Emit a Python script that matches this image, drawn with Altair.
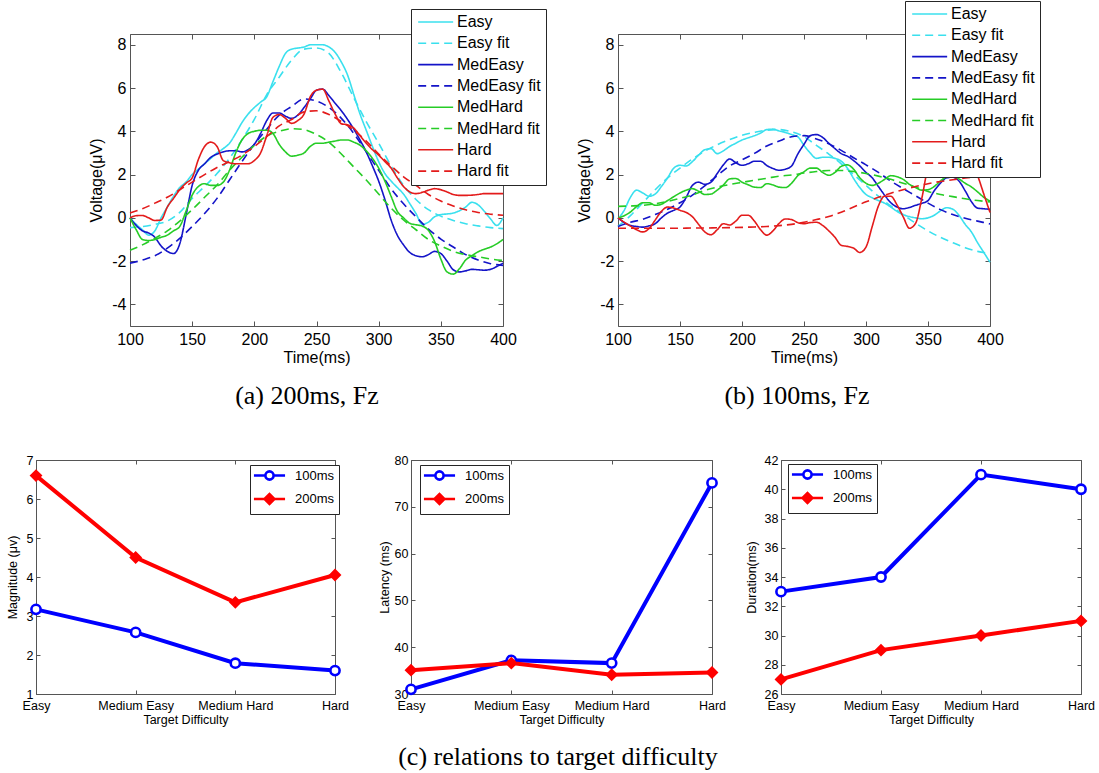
import altair as alt
import pandas as pd

# ---------------- data ----------------
t_raw = list(range(100, 401, 5))
t_fit = list(range(100, 401, 10))

series_names = ["Easy", "Easy fit", "MedEasy", "MedEasy fit",
                "MedHard", "MedHard fit", "Hard", "Hard fit"]

# (a) 200ms, Fz
a_easy = [0, -0.3, -0.55, -0.8, -0.6, 0.0, 0.5, 1.0, 1.4, 1.65,
          2.0, 2.25, 2.5, 2.75, 3.0, 3.2, 3.45, 3.9, 4.4, 4.8,
          5.1, 5.35, 5.6, 6.3, 7.0, 7.6, 7.8, 7.85, 7.9, 8.0,
          8.0, 8.0, 7.9, 7.65, 7.2, 6.6, 5.7, 4.8, 4.05, 3.3,
          2.6, 2.05, 1.7, 1.4, 1.1, 0.66, 0.2, -0.3, -0.2, 0.05,
          0.15, 0.18, 0.22, 0.33, 0.5, 0.72, 0.6, 0.3, -0.05, -0.35,
          0.0]
a_easy_fit = [-0.45, -0.4, -0.3, -0.15, 0.25, 0.9, 1.45, 2.05, 2.75, 3.6,
              4.55, 5.7, 6.5, 7.3, 7.8, 7.85, 7.6, 6.7, 5.55, 4.45,
              3.45, 2.4, 1.5, 0.85, 0.38, 0.08, -0.12, -0.27, -0.37, -0.45,
              -0.5]
a_medeasy = [0, -0.35, -0.6, -0.7, -0.9, -1.3, -1.55, -1.65, -1.2, 0.1,
             1.5, 2.2, 2.5, 2.8, 2.95, 3.05, 3.1, 3.1, 3.05, 3.15,
             3.4, 3.9, 4.5, 4.85, 4.85, 4.7, 4.6, 4.75, 5.1, 5.5,
             5.9, 5.95, 5.65, 5.3, 4.95, 4.55, 4.1, 3.6, 3.05, 2.4,
             1.7, 0.85, -0.1, -0.8, -1.25, -1.6, -1.75, -1.8, -1.7, -1.55,
             -1.65, -2.0, -2.4, -2.5, -2.45, -2.38, -2.4, -2.42, -2.38, -2.25,
             -2.1]
a_medeasy_fit = [-2.1, -1.95, -1.75, -1.4, -0.95, -0.4, 0.2, 0.9, 1.75, 2.6,
                 3.4, 4.1, 4.75, 5.15, 5.5, 5.4, 5.1, 4.6, 3.9, 3.05,
                 2.2, 1.35, 0.65, 0.05, -0.52, -0.98, -1.35, -1.7, -1.95, -2.12,
                 -2.2]
a_medhard = [0, -0.55, -1.0, -1.05, -1.0, -0.9, -0.8, -0.6, -0.4, 0.3,
             1.05, 1.45, 1.58, 1.5, 1.5, 1.65, 2.2, 3.0, 3.6, 3.9,
             4.0, 4.05, 4.05, 3.9, 3.4, 3.05, 2.85, 2.9, 3.0, 3.3,
             3.45, 3.45, 3.5, 3.55, 3.6, 3.6, 3.5, 3.36, 3.1, 2.75,
             2.3, 1.7, 1.0, 0.3, 0.0, -0.25, -0.32, -0.38, -0.58, -1.1,
             -1.9, -2.5, -2.6, -2.35, -1.95, -1.75, -1.57, -1.45, -1.35, -1.2,
             -1.0]
a_medhard_fit = [-1.5, -1.25, -0.95, -0.6, -0.15, 0.38, 0.95, 1.52, 2.2, 2.8,
                 3.35, 3.78, 4.0, 4.12, 4.08, 3.85, 3.5, 2.95, 2.35, 1.75,
                 1.1, 0.45, -0.1, -0.55, -1.0, -1.3, -1.55, -1.7, -1.8, -1.9,
                 -1.97]
a_hard = [0, 0.1, 0.11, 0.0, -0.12, -0.1, 0.5, 0.9, 1.3, 1.6,
          1.85, 2.7, 3.3, 3.5, 3.3, 2.65, 2.55, 2.5, 2.5, 2.5,
          2.65, 3.0, 3.8, 4.65, 4.78, 4.6, 4.37, 4.5, 4.8, 5.6,
          5.9, 5.95, 5.4, 4.8, 4.35, 4.3, 4.15, 3.8, 3.45, 3.15,
          2.9, 2.6, 2.3, 1.85, 1.45, 1.2, 1.12, 1.18, 1.28, 1.35,
          1.3, 1.2, 1.08, 1.04, 1.04, 1.05, 1.08, 1.12, 1.12, 1.12,
          1.12]
a_hard_fit = [0.22, 0.42, 0.68, 0.95, 1.3, 1.65, 2.0, 2.33, 2.6, 2.9,
              3.3, 3.75, 4.25, 4.55, 4.9, 4.95, 4.78, 4.45, 4.05, 3.55,
              2.95, 2.4, 1.9, 1.5, 1.08, 0.78, 0.55, 0.37, 0.25, 0.17,
              0.12]

# (b) 100ms, Fz
b_easy = [-0.05, 0.35, 0.95, 1.28, 1.15, 1.0, 1.1, 1.45, 1.85, 2.3,
          2.43, 2.4, 2.6, 2.9, 3.15, 3.2, 2.97, 3.1, 3.3, 3.45,
          3.6, 3.7, 3.8, 3.92, 4.08, 4.1, 4.02, 3.95, 3.85, 3.75,
          3.35, 3.0, 2.75, 2.8, 2.8, 2.75, 2.62, 2.3, 1.82, 1.4,
          1.08, 0.93, 0.8, 0.68, 0.5, 0.3, 0.15, 0.06, 0.0, -0.04,
          0.0, 0.12, 0.32, 0.47, 0.4, 0.12, -0.3, -0.65, -1.15, -1.6,
          -2.05]
b_easy_fit = [-0.4, 0.1, 0.7, 1.3, 1.85, 2.3, 2.72, 3.08, 3.38, 3.62,
              3.82, 3.95, 4.05, 4.08, 3.98, 3.75, 3.35, 2.95, 2.5, 2.0,
              1.5, 1.0, 0.55, 0.15, -0.25, -0.6, -0.9, -1.15, -1.38, -1.55,
              -1.65]
b_medeasy = [0, -0.22, -0.35, -0.4, -0.43, -0.37, -0.27, 0.0, 0.22, 0.35,
             0.5, 0.95, 1.5, 1.65, 1.55, 1.65, 2.05, 2.45, 2.72, 2.55,
             2.43, 2.5, 2.62, 2.62, 2.42, 2.28, 2.2, 2.25, 2.4, 2.95,
             3.4, 3.8, 3.85, 3.72, 3.45, 3.2, 2.97, 2.85, 2.65, 2.4,
             2.1, 1.85, 1.45, 1.05, 0.7, 0.5, 0.42, 0.48, 0.58, 0.67,
             0.8, 1.25, 1.6, 1.85, 1.88, 1.7, 1.25, 0.75, 0.45, 0.42,
             0.4]
b_medeasy_fit = [-0.4, -0.2, -0.07, 0.15, 0.4, 0.7, 1.05, 1.48, 1.95, 2.4,
                 2.68, 2.98, 3.32, 3.55, 3.75, 3.8, 3.65, 3.42, 3.12, 2.78,
                 2.45, 2.1, 1.7, 1.35, 1.02, 0.68, 0.38, 0.15, -0.02, -0.15,
                 -0.28]
b_medhard = [0, 0.1, 0.27, 0.52, 0.7, 0.7, 0.58, 0.63, 0.8, 0.98,
             1.15, 1.28, 1.35, 1.23, 1.08, 1.1, 1.28, 1.52, 1.8, 1.82,
             1.65, 1.53, 1.42, 1.4, 1.58, 1.52, 1.42, 1.4, 1.6, 1.95,
             2.13, 2.3, 2.3, 2.1, 1.97, 2.1, 2.38, 2.45, 2.25, 1.85,
             1.6, 1.5, 1.6, 1.78, 1.95, 1.9, 1.78, 1.55, 1.4, 1.28,
             1.3, 1.45, 1.7, 1.9, 1.95, 1.8, 1.6, 1.43, 1.2, 0.95,
             0.78]
b_medhard_fit = [0.53, 0.55, 0.58, 0.65, 0.76, 0.9, 1.06, 1.27, 1.42, 1.54,
                 1.64, 1.74, 1.83, 1.93, 1.98, 2.07, 2.14, 2.19, 2.19, 2.14,
                 2.05, 1.93, 1.78, 1.6, 1.42, 1.22, 1.08, 0.98, 0.88, 0.8,
                 0.74]
b_hard = [0, -0.2, -0.38, -0.55, -0.65, -0.5, -0.1, 0.3, 0.5, 0.45,
          0.35, 0.25, 0.05, -0.3, -0.65, -0.78, -0.55, -0.27, -0.33, -0.15,
          0.12, 0.12, -0.15, -0.55, -0.8, -0.6, -0.25, -0.05, -0.08, -0.22,
          -0.27, -0.22, -0.2, -0.35, -0.6, -0.9, -1.27, -1.32, -1.4, -1.6,
          -1.35, -0.4, 0.55, 1.0, 1.0, 0.6, 0.05, -0.48, -0.25, 0.9,
          2.36, 3.0, 3.2, 3.0, 2.8, 2.7, 2.75, 2.6, 1.95, 1.1,
          0.25]
b_hard_fit = [-0.48, -0.48, -0.48, -0.48, -0.48, -0.48, -0.47, -0.47, -0.46, -0.45,
              -0.44, -0.42, -0.4, -0.36, -0.3, -0.2, -0.08, 0.06, 0.26, 0.5,
              0.74, 0.95, 1.14, 1.3, 1.45, 1.58, 1.68, 1.76, 1.84, 1.91,
              1.97]

# (c) relations to target difficulty
categories = ["Easy", "Medium Easy", "Medium Hard", "Hard"]
conditions = ["100ms", "200ms"]
mag_100 = [3.17, 2.58, 1.79, 1.6]
mag_200 = [6.6, 4.5, 3.35, 4.05]
lat_100 = [31.0, 37.2, 36.6, 75.1]
lat_200 = [35.1, 36.6, 34.1, 34.6]
dur_100 = [33, 34, 41, 40]
dur_200 = [27, 29, 30, 31]

captions = ["(a) 200ms, Fz", "(b) 100ms, Fz", "(c) relations to target difficulty"]

# ---------------- styling ----------------
W, H = 1099, 773
AXC = "#555555"
SANS = "Liberation Sans"
SERIF = "Liberation Serif"
CYAN, BLUE, GREEN, RED = "#3ae0ee", "#1414c8", "#26cc26", "#e31b1b"
series_colors = [CYAN, CYAN, BLUE, BLUE, GREEN, GREEN, RED, RED]
SOLID, DASH = [1, 0], [8, 5]
series_dashes = [SOLID, DASH, SOLID, DASH, SOLID, DASH, SOLID, DASH]
to_str = "toString(datum.value)"


def frame_layers(df, xf, yf, xs, ys, box, xvals, yvals, tick):
    """Inward ticks on all four sides plus the top/right box edges."""
    L, T, R, B = box
    base = dict(labels=False, title=None, grid=False, ticks=True, tickSize=tick,
                tickColor=AXC, tickWidth=1, domainColor=AXC, domainWidth=1)
    xkw = {} if xvals is None else {"values": xvals}
    l2 = alt.Chart(df).mark_point(opacity=0).encode(
        x=alt.X(xf, scale=xs, axis=alt.Axis(orient="top", offset=-B, domain=False, **base, **xkw)),
        y=alt.Y(yf, scale=ys, axis=alt.Axis(orient="right", offset=L - W, domain=False, values=yvals, **base)),
    )
    l3 = alt.Chart(df).mark_point(opacity=0).encode(
        x=alt.X(xf, scale=xs, axis=alt.Axis(orient="bottom", offset=T - H, domain=True, **base, **xkw)),
        y=alt.Y(yf, scale=ys, axis=alt.Axis(orient="left", offset=-R, domain=True, values=yvals, **base)),
    )
    return [l2, l3]


def top_panel(curves, box, leg_xy):
    L, T, R, B = box
    rows = []
    for name, times, vals in curves:
        for t, v in zip(times, vals):
            rows.append({"t": t, "v": v, "series": name})
    df = pd.DataFrame(rows)
    xs = alt.Scale(domain=[100, 400], range=[L, R], nice=False, zero=False)
    ys = alt.Scale(domain=[-5, 8.5], range=[B, T], nice=False, zero=False)
    leg = alt.Legend(title=None, orient="none", legendX=leg_xy[0], legendY=leg_xy[1],
                     direction="vertical", fillColor="white", strokeColor="#262626",
                     padding=5, rowPadding=5.3, labelFont=SANS,
                     labelFontSize=16, labelColor="black", labelLimit=300,
                     symbolType="M-1,0H5", symbolSize=136, symbolStrokeWidth=1.6,
                     symbolOffset=0, labelOffset=25, zindex=1)
    xticks = [100, 150, 200, 250, 300, 350, 400]
    yticks = [-4, -2, 0, 2, 4, 6, 8]
    lines = alt.Chart(df).mark_line(strokeWidth=1.6, interpolate="monotone").encode(
        x=alt.X("t:Q", scale=xs, axis=alt.Axis(
            orient="bottom", offset=B - H, values=xticks, ticks=False, domain=True,
            labelFontSize=16, labelPadding=5, labelFlush=False, labelOverlap=False,
            labelExpr=to_str, title="Time(ms)", titleFontSize=16, titlePadding=2, grid=False)),
        y=alt.Y("v:Q", scale=ys, axis=alt.Axis(
            orient="left", offset=-L, values=yticks, ticks=False, domain=True,
            labelFontSize=16, labelPadding=4, labelOverlap=False, labelExpr=to_str,
            title="Voltage(\u03bcV)", titleFontSize=16, titlePadding=7, grid=False)),
        color=alt.Color("series:N", scale=alt.Scale(domain=series_names, range=series_colors), legend=leg),
        strokeDash=alt.StrokeDash("series:N", scale=alt.Scale(domain=series_names, range=series_dashes), legend=leg),
    )
    return [lines] + frame_layers(df, "t:Q", "v:Q", xs, ys, box, xticks, yticks, 5)


CIRCLE_LEG = "M-3.8,0H-1M1,0H3.8M-1,0A1,1,0,1,1,1,0A1,1,0,1,1,-1,0Z"
DIAMOND_LEG = "M-3.8,0H-1.2M1.2,0H3.8M-1.2,0L0,-1.2L1.2,0L0,1.2Z"


def bottom_panel(v100, v200, box, ydomain, yticks, ytitle, leg_xy, tpad):
    L, T, R, B = box
    df = pd.DataFrame({
        "cond": categories + categories,
        "value": v100 + v200,
        "series": [conditions[0]] * 4 + [conditions[1]] * 4,
    })
    xs = alt.Scale(type="point", domain=categories, range=[L, R], padding=0)
    ys = alt.Scale(domain=ydomain, range=[B, T], nice=False, zero=False)
    stroke_sc = alt.Scale(domain=conditions, range=["#0000ff", "#ff0000"])
    fill_sc = alt.Scale(domain=conditions, range=["white", "#ff0000"])
    lines = alt.Chart(df).mark_line(strokeWidth=4).encode(
        x=alt.X("cond:N", scale=xs, axis=alt.Axis(
            orient="bottom", offset=B - H, ticks=False, domain=True, labelAngle=0,
            labelFontSize=12.5, labelPadding=5, labelFlush=False, labelOverlap=False,
            title="Target Difficulty", titleFontSize=12.5, titlePadding=1.5, grid=False)),
        y=alt.Y("value:Q", scale=ys, axis=alt.Axis(
            orient="left", offset=-L, values=yticks, ticks=False, domain=True,
            labelFontSize=12.5, labelPadding=3, labelOverlap=False, labelExpr=to_str,
            title=ytitle, titleFontSize=12.5, titlePadding=tpad, grid=False)),
        color=alt.Color("series:N", scale=stroke_sc, legend=None),
    )
    markers = alt.Chart(df).mark_point(size=85, strokeWidth=2.6, opacity=1).encode(
        x=alt.X("cond:N", scale=xs, axis=None),
        y=alt.Y("value:Q", scale=ys, axis=None),
        shape=alt.Shape("series:N", scale=alt.Scale(domain=conditions, range=["circle", "diamond"]), legend=None),
        stroke=alt.Stroke("series:N", scale=stroke_sc, legend=None),
        fill=alt.Fill("series:N", scale=fill_sc, legend=None),
    )
    leg = alt.Legend(title=None, orient="none", legendX=leg_xy[0], legendY=leg_xy[1],
                     direction="vertical", fillColor="white", strokeColor="#262626",
                     padding=4, rowPadding=3.5, labelFont=SANS,
                     labelFontSize=13, labelColor="black", symbolSize=67,
                     symbolStrokeWidth=2.6, symbolOffset=9, labelOffset=19, zindex=1)
    legend_layer = alt.Chart(df).mark_point(size=67, strokeWidth=2.6, opacity=1).encode(
        x=alt.value(-300), y=alt.value(-300),
        shape=alt.Shape("series:N", scale=alt.Scale(domain=conditions, range=[CIRCLE_LEG, DIAMOND_LEG]), legend=leg),
        stroke=alt.Stroke("series:N", scale=stroke_sc, legend=leg),
        fill=alt.Fill("series:N", scale=fill_sc, legend=leg),
    )
    return [lines, markers, legend_layer] + frame_layers(df, "cond:N", "value:Q", xs, ys, box, None, yticks, 4)


def caption(text, cx, cy):
    return alt.Chart(pd.DataFrame({"caption": [text]})).mark_text(
        font=SERIF, fontSize=26, align="center", baseline="alphabetic", color="black"
    ).encode(text="caption:N", x=alt.value(cx), y=alt.value(cy))


curves_a = [("Easy", t_raw, a_easy), ("Easy fit", t_fit, a_easy_fit),
            ("MedEasy", t_raw, a_medeasy), ("MedEasy fit", t_fit, a_medeasy_fit),
            ("MedHard", t_raw, a_medhard), ("MedHard fit", t_fit, a_medhard_fit),
            ("Hard", t_raw, a_hard), ("Hard fit", t_fit, a_hard_fit)]
curves_b = [("Easy", t_raw, b_easy), ("Easy fit", t_fit, b_easy_fit),
            ("MedEasy", t_raw, b_medeasy), ("MedEasy fit", t_fit, b_medeasy_fit),
            ("MedHard", t_raw, b_medhard), ("MedHard fit", t_fit, b_medhard_fit),
            ("Hard", t_raw, b_hard), ("Hard fit", t_fit, b_hard_fit)]

layers = []
layers += top_panel(curves_a, (130, 34, 503, 326), (411, 9))
layers += top_panel(curves_b, (618, 34, 990, 326), (905, 1))
layers += bottom_panel(mag_100, mag_200, (36, 460, 335, 694), [1, 7], [1, 2, 3, 4, 5, 6, 7],
                       "Magnitude (\u03bcv)", (250, 465), 6.5)
layers += bottom_panel(lat_100, lat_200, (411, 460, 712, 694), [30, 80], [30, 40, 50, 60, 70, 80],
                       "Latency (ms)", (420, 465), 2.5)
layers += bottom_panel(dur_100, dur_200, (781, 460, 1081, 694), [26, 42],
                       [26, 28, 30, 32, 34, 36, 38, 40, 42], "Duration(ms)", (788, 464), 6)
layers += [caption(captions[0], 307, 404), caption(captions[1], 797, 404),
           caption(captions[2], 558, 765)]

chart = alt.layer(*layers).resolve_scale(
    x="independent", y="independent", color="independent", strokeDash="independent",
    shape="independent", stroke="independent", fill="independent",
).properties(
    width=W, height=H, autosize=alt.AutoSizeParams(type="none"), padding=0, background="white",
).configure_view(strokeWidth=0).configure_axis(
    labelFont=SANS, titleFont=SANS, labelColor="black", titleColor="black",
    titleFontWeight="normal", domainColor=AXC, tickColor=AXC,
)

chart.save("out.html", embed_options={"renderer": "svg", "actions": False})
